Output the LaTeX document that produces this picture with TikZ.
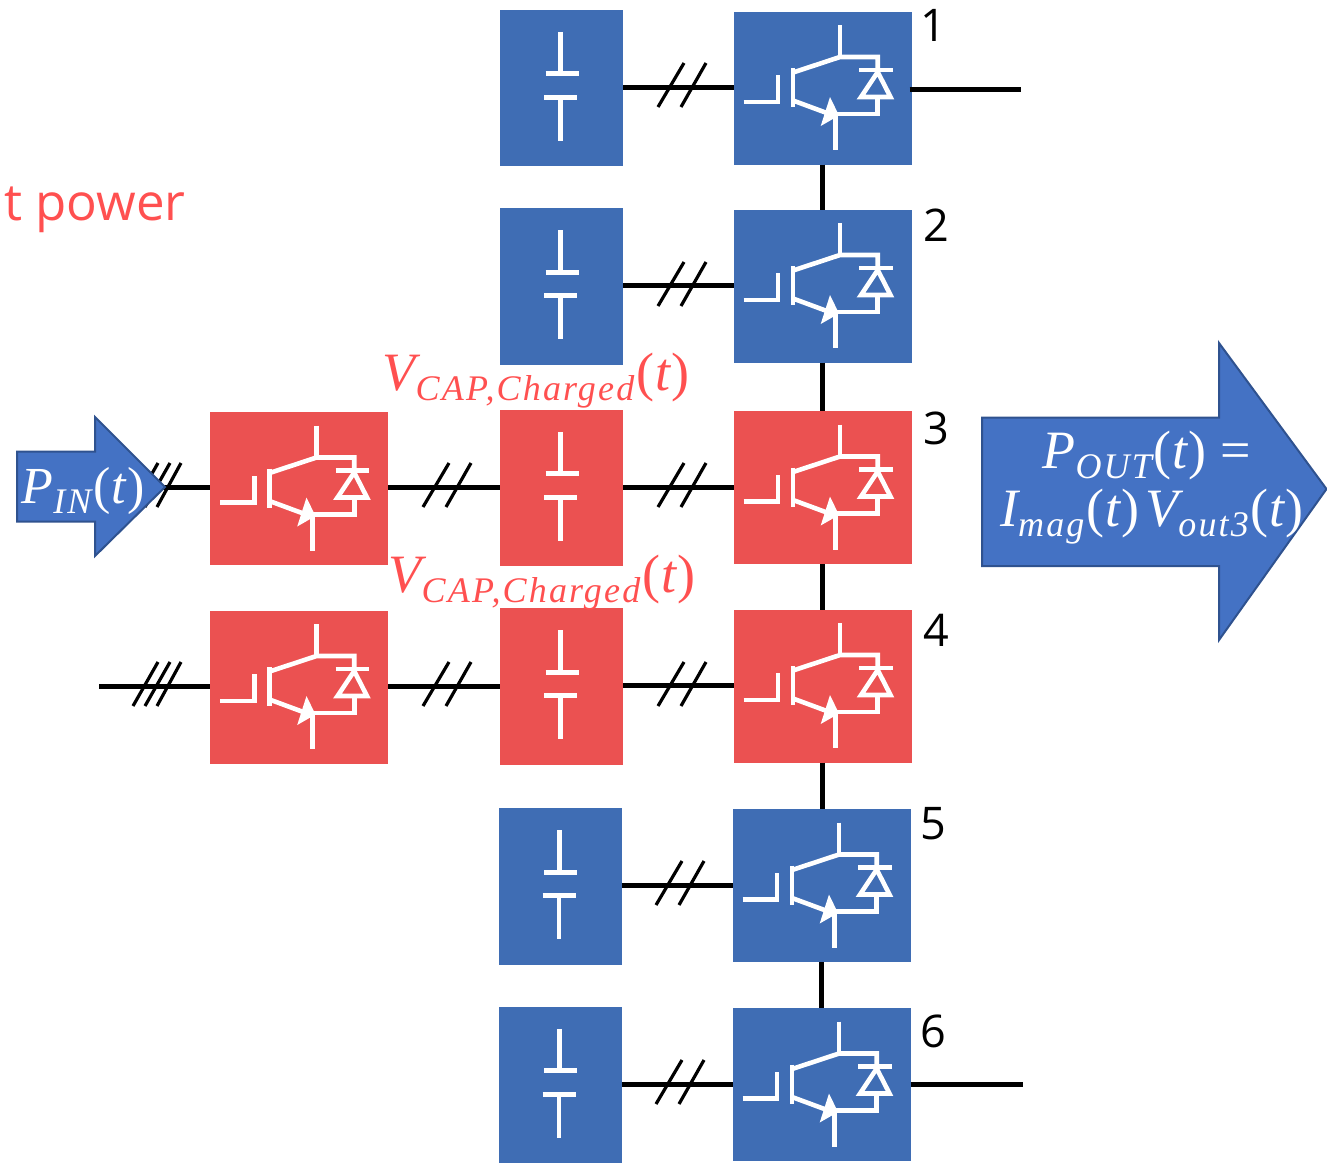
\documentclass[tikz,border=0pt]{standalone}
\usepackage{fontspec}
\setmainfont{Open Sans}
\newfontfamily\serifm{Liberation Serif}[LetterSpace=6]
\definecolor{boxblue}{HTML}{3F6DB4}
\definecolor{boxred}{HTML}{EB5151}
\definecolor{arrowblue}{HTML}{4472C4}
\definecolor{arrowedge}{HTML}{2F528F}
\definecolor{txtred}{HTML}{FF5050}
% math-like label: main letter, subscript, main font size
\newcommand{\lbl}[3]{{\fontsize{#3}{#3}\selectfont\serifm\itshape #1}\raisebox{-10pt}{\fontsize{36}{36}\selectfont\serifm\itshape #2}{\fontsize{#3}{#3}\selectfont\serifm\kern2pt(\kern1pt{\itshape t}\kern1pt)}}
\tikzset{
  x=1pt,y=-1pt,
  igbtbox/.style={rectangle,minimum width=178pt,minimum height=153pt,inner sep=0pt,outer sep=0pt,fill=#1},
  capbox/.style={rectangle,minimum width=123pt,minimum height=156.5pt,inner sep=0pt,outer sep=0pt,fill=#1},
  wire/.style={line width=5pt,black},
  slash/.style={line width=3.2pt,black},
  sym/.style={line width=4.6pt,white},
  powerarrow/.style={fill=arrowblue,draw=arrowedge,line width=2pt},
  numlabel/.style={font=\fontsize{45}{45}\selectfont,black,inner sep=0pt},
  redlabel/.style={text=txtred,inner sep=0pt},
  whitelabel/.style={text=white,inner sep=0pt,align=center},
  igbtsym/.pic={
    \draw[sym] (106.5,13.5) -- (106.5,45.5);
    \draw[sym] (59.5,61) -- (106.5,45.5) -- (144.2,45.5) -- (144.2,58.5);
    \draw[sym] (125.5,58.5) -- (159.2,58.5);
    \draw[sym,line join=miter] (144.2,60.5) -- (127.5,85.5) -- (157,85.5) -- cycle;
    \draw[sym] (144.2,85.5) -- (144.2,102.5) -- (102.2,102.5);
    \draw[sym] (102.2,102.5) -- (102.2,138.5);
    \draw[sym] (59.5,56.5) -- (59.5,95.5);
    \draw[sym] (59.5,89) -- (96,102.5);
    \fill[white] (96.5,85.5) -- (87.2,114.5) -- (105.5,104) -- cycle;
    \draw[sym] (10,90.5) -- (44.5,90.5) -- (44.5,63.5);
  },
  capsym/.pic={
    \draw[sym] (60.7,22) -- (60.7,64);
    \draw[sym] (45.7,64) -- (78.7,64);
    \draw[sym] (44,87.5) -- (77,87.5);
    \draw[sym] (60.2,87.5) -- (60.2,131);
  }
}
\newcommand{\hatchtwo}[2]{\draw[slash] (#1,#2+20) -- (#1+26,#2-24); \draw[slash] (#1+23,#2+20) -- (#1+48,#2-24);}
\newcommand{\hatchthree}[2]{\draw[slash] (#1,#2+20) -- (#1+25,#2-24); \draw[slash] (#1+12,#2+20) -- (#1+37,#2-24); \draw[slash] (#1+24,#2+20) -- (#1+48,#2-24);}
\begin{document}
\begin{tikzpicture}
\useasboundingbox (0,0) rectangle (1327,1163);
% capacitor boxes
\node[capbox=boxblue] (cap1) at (561.5,88) {};
\node[capbox=boxblue] (cap2) at (561.5,286.5) {};
\node[capbox=boxred]  (cap3) at (561.5,488) {};
\node[capbox=boxred]  (cap4) at (561.5,686.5) {};
\node[capbox=boxblue] (cap5) at (560.2,886.5) {};
\node[capbox=boxblue] (cap6) at (560.2,1085) {};
% converter boxes
\node[igbtbox=boxblue] (igbt1) at (822.5,88) {};
\node[igbtbox=boxblue] (igbt2) at (822.5,286) {};
\node[igbtbox=boxred]  (igbt3) at (822.5,487.5) {};
\node[igbtbox=boxred]  (igbt4) at (822.5,686) {};
\node[igbtbox=boxblue] (igbt5) at (821.5,885.5) {};
\node[igbtbox=boxblue] (igbt6) at (821.5,1084.5) {};
\node[igbtbox=boxred]  (left3) at (299,488.5) {};
\node[igbtbox=boxred]  (left4) at (299,687) {};
\foreach \n in {igbt1,igbt2,igbt3,igbt4,igbt5,igbt6,left3,left4} \pic at (\n.north west) {igbtsym};
\foreach \n in {cap1,cap2,cap3,cap4,cap5,cap6} \pic at (\n.north west) {capsym};
% free ends
\coordinate (out1) at (1021,89.5);
\coordinate (out6) at (1023,1084);
\coordinate (in4) at (99,686.5);
\coordinate (in3) at (160,487.5);
% wires
\foreach \i in {1,...,6}
  \draw[wire] ([yshift=1pt]cap\i.east) -- ([yshift=1pt]cap\i.east -| igbt\i.west);
\draw[wire] ([yshift=1pt]left3.east) -- ([yshift=1pt]left3.east -| cap3.west);
\draw[wire] ([yshift=1pt]left4.east) -- ([yshift=1pt]left4.east -| cap4.west);
\draw[wire] (in3) -- (in3 -| left3.west);
\draw[wire] (in4) -- (in4 -| left4.west);
\draw[wire] (igbt1.east |- out1) ++(-2,0) -- (out1);
\draw[wire] (igbt6.east |- out6) -- (out6);
\draw[wire] (igbt1.south) -- (igbt2.north);
\draw[wire] (igbt2.south) -- (igbt3.north);
\draw[wire] (igbt3.south) -- (igbt4.north);
\draw[wire] (igbt4.south) -- (igbt4.south |- igbt5.north);
\draw[wire] (igbt5.south) -- (igbt6.north);
% hatches
\hatchtwo{658}{87}
\hatchtwo{658}{286}
\hatchtwo{658}{487}
\hatchtwo{658}{686}
\hatchtwo{656}{885}
\hatchtwo{656}{1084}
\hatchtwo{423}{487}
\hatchtwo{423}{686}
\hatchthree{133}{487}
\hatchthree{133}{686}
% power arrows
\path[powerarrow] (17,451.5) -- (95,451.5) -- (95,417) -- (165,487) -- (95,556) -- (95,521.5) -- (17,521.5) -- cycle;
\path[powerarrow] (982,417.5) -- (1219,417.5) -- (1219,343) -- (1326.5,489) -- (1219,640) -- (1219,566) -- (982,566) -- cycle;
% labels
\node[whitelabel] (pin) at (83,491) {\lbl{P}{IN}{52}};
\node[whitelabel,font=\fontsize{58}{58}\selectfont] (pout) at (1152,488) {\lbl{P}{OUT}{54}\kern14pt{\fontsize{54}{54}\selectfont\serifm =}\kern10pt\\\lbl{I}{mag}{54}\kern6pt\lbl{V}{out3}{54}};
\node[redlabel] (vcap1) at (536,381) {\lbl{V}{CAP,Charged}{54}};
\node[redlabel] (vcap2) at (542,583) {\lbl{V}{CAP,Charged}{54}};
\node[redlabel,font=\fontsize{51}{51}\selectfont,anchor=west] (power) at (4,210) {t power};
\node[numlabel] (n1) at (933,25) {1};
\node[numlabel] (n2) at (936,225) {2};
\node[numlabel] (n3) at (936,428) {3};
\node[numlabel] (n4) at (936,630) {4};
\node[numlabel] (n5) at (933,824) {5};
\node[numlabel] (n6) at (933,1031) {6};
\end{tikzpicture}
\end{document}
